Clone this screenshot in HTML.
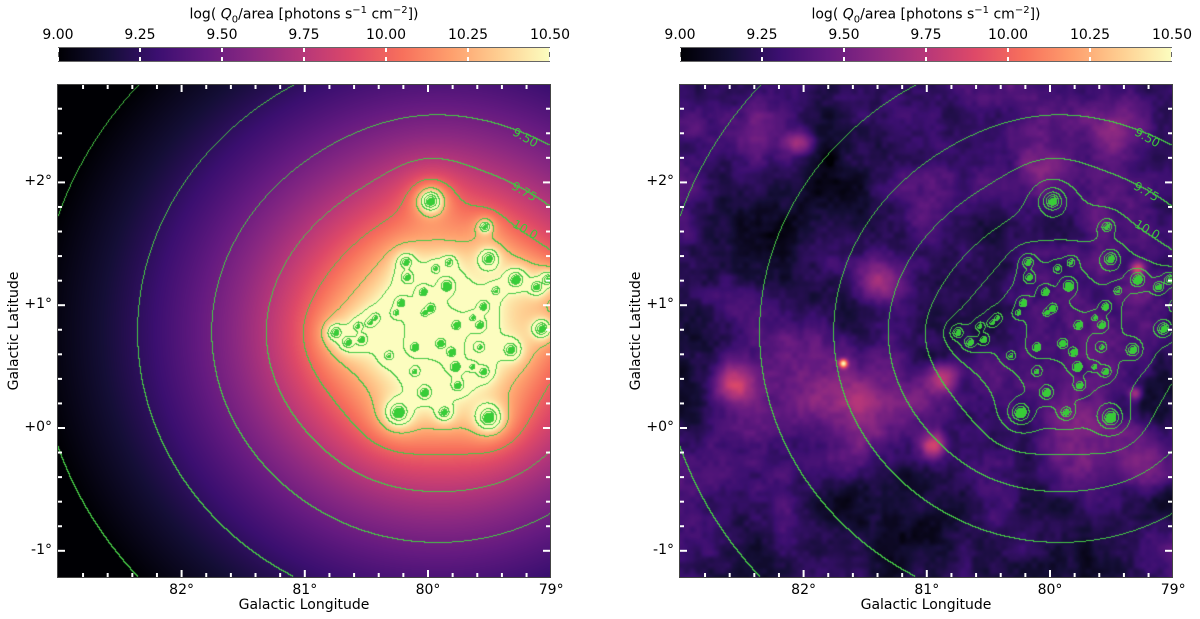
<!DOCTYPE html>
<html><head><meta charset="utf-8">
<style>
body{margin:0;background:#fff;width:1200px;height:619px;overflow:hidden;font-family:"DejaVu Sans","Liberation Sans",sans-serif;color:#000}
.abs{position:absolute}
canvas{position:absolute}
.t{position:absolute;font-size:14px;white-space:nowrap}
</style></head><body>
<div id="root"></div>
<script>
// ---- data ----
const srcLon=[79.98,79.54,80.18,80.17,79.94,79.83,79.51,79.85,79.29,79.12,79.03,79.45,80.04,80.22,79.98,80.03,79.55,79.64,79.77,79.58,79.08,80.75,80.57,80.47,80.43,80.54,80.65,80.26,79.90,80.32,80.11,79.81,79.78,79.64,79.55,79.33,79.58,80.11,79.76,80.03,80.24,79.87,79.51];
const srcLat=[1.85,1.64,1.35,1.23,1.30,1.35,1.38,1.16,1.21,1.15,1.21,1.12,1.11,1.02,0.98,0.94,0.99,0.90,0.84,0.84,0.81,0.78,0.83,0.86,0.90,0.72,0.70,0.94,0.69,0.59,0.66,0.62,0.50,0.50,0.46,0.64,0.66,0.46,0.35,0.29,0.13,0.13,0.09];
const srcWeight=[4,1,2,2,1,1,3,4,4,2,2,1,2,2,2,1,2,1,2,2,3,2,1,1,1,2,2,1,2,1,2,2,3,1,2,3,1,1,2,3,6,2,6];
const contourLevels=[9.0,9.25,9.5,9.75,10.0,10.25,10.5,10.75,11.0];
const contourLabels=["9.50","9.75","10.0"];
const cbTicks=[9.00,9.25,9.50,9.75,10.00,10.25,10.50];
const lonTicks=[82,81,80,79];
const latTicks=[2,1,0,-1];
const cbMin=9.0, cbMax=10.5;
const clusterLon=79.98, clusterLat=0.79;

const AX_TOP=85, AX_W=492, AX_H=492, PANELS=[58,680];
function xPix(lon){return 370+(80-lon)*123.2;}
function yPix(lat){return 343-lat*122.8;}
function fmt(v){return v.toFixed(2);}

const magma=[[0,0,0,4],[0.1,20,14,54],[0.2,59,15,112],[0.3,100,26,128],[0.4,140,41,129],[0.5,183,55,121],[0.6,222,73,104],[0.7,247,112,92],[0.8,254,159,109],[0.9,254,207,146],[1,252,253,191]];
function cmap(t){t=Math.max(0,Math.min(1,t));for(let i=1;i<magma.length;i++){if(t<=magma[i][0]){const a=magma[i-1],b=magma[i],f=(t-a[0])/(b[0]-a[0]);return [a[1]+(b[1]-a[1])*f,a[2]+(b[2]-a[2])*f,a[3]+(b[3]-a[3])*f];}}return [252,253,191];}

// field: diffuse 1/r^2 from cluster + point sources
const W=srcWeight.reduce((a,b)=>a+b,0);
const KS=5e11;
const KD=Math.pow(10,14.141)-KS*W, CORE=42;
const cx=xPix(clusterLon), cy=yPix(clusterLat);
const F=new Float32Array(AX_W*AX_H);
const sx=srcLon.map(xPix), sy=srcLat.map(yPix);
for(let y=0;y<AX_H;y++)for(let x=0;x<AX_W;x++){
  const ddx=(x-cx)/1.1,ddy=y-cy;let q=KD/(ddx*ddx+ddy*ddy+CORE*CORE);
  for(let i=0;i<sx.length;i++){const dx=x-sx[i],dy=y-sy[i];q+=KS*srcWeight[i]/(dx*dx+dy*dy+3);}
  F[y*AX_W+x]=Math.log10(q);}
function lvl(v){if(v<contourLevels[0])return -1;let k=0;for(let i=0;i<contourLevels.length;i++)if(v>=contourLevels[i])k=i+1;return k;}

// noise
function hash(x,y,s){let h=(x*374761393+y*668265263+s*982451653)|0;h=(h^(h>>>13))*1274126177|0;return ((h^(h>>>16))>>>0)/4294967295;}
function vnoise(x,y,sc,s){const gx=x/sc,gy=y/sc,x0=Math.floor(gx),y0=Math.floor(gy),fx=gx-x0,fy=gy-y0;const u=fx*fx*(3-2*fx),v=fy*fy*(3-2*fy);const a=hash(x0,y0,s),b=hash(x0+1,y0,s),c=hash(x0,y0+1,s),d=hash(x0+1,y0+1,s);return a+(b-a)*u+(c-a)*v+(a-b-c+d)*u*v;}
const blobs=[[53,297,16,0.5],[163,278,3,1.0],[203,198,18,0.5],[262,292,10,0.45],[253,360,9,0.6],[120,57,9,0.45],[87,52,28,0.3],[457,183,5,0.6],[455,308,5,0.45],[175,330,40,0.35],[150,280,30,0.2],[440,45,22,0.3],[367,85,18,0.25],[467,378,20,0.35],[330,275,35,0.15],[400,350,28,0.25],[250,120,25,0.15]];
function bgVal(x,y){let n=0.45*vnoise(x,y,80,1)+0.27*vnoise(x,y,35,2)+0.17*vnoise(x,y,15,3)+0.11*vnoise(x,y,6,4);let v=9.04+0.65*(n-0.2);for(const b of blobs){const dx=x-b[0],dy=y-b[1];v+=b[3]*Math.exp(-(dx*dx+dy*dy)/(2*b[2]*b[2]));}return v;}

const root=document.getElementById('root');
function mk(tag,cls,name,css,txt){const e=document.createElement(tag);if(cls)e.className=cls;e.style.cssText=css;if(txt!==undefined)e.textContent=txt;root.appendChild(e);return e;}

PANELS.forEach((L,p)=>{
  const cv=mk('canvas','',p?'observed-map':'model-map',`left:${L}px;top:${AX_TOP}px;`);
  cv.width=AX_W;cv.height=AX_H;const ctx=cv.getContext('2d');const im=ctx.createImageData(AX_W,AX_H);
  for(let y=0;y<AX_H;y++)for(let x=0;x<AX_W;x++){const i=y*AX_W+x;const f=F[i];let c;
    const lv=lvl(f);const lr=x<AX_W-1?lvl(F[i+1]):lv,lb=y<AX_H-1?lvl(F[i+AX_W]):lv;
    if(f>12.2)c=[235,255,235];
    else if(f>11.1)c=[55,205,55];
    else if(lv!==lr||lv!==lb)c=[70,200,70];
    else{const v=p?bgVal(x,y):f;c=cmap((v-cbMin)/(cbMax-cbMin));}
    im.data[i*4]=c[0];im.data[i*4+1]=c[1];im.data[i*4+2]=c[2];im.data[i*4+3]=255;}
  ctx.putImageData(im,0,0);
  const NS='http://www.w3.org/2000/svg';const sv=document.createElementNS(NS,'svg');
  
  sv.setAttribute('width',AX_W+2);sv.setAttribute('height',AX_H+2);sv.style.cssText=`position:absolute;left:${L-1}px;top:${AX_TOP-1}px`;
  root.appendChild(sv);
  function ln(x1,y1,x2,y2,col,w,name){const l=document.createElementNS(NS,'line');l.setAttribute('x1',x1+1);l.setAttribute('y1',y1+1);l.setAttribute('x2',x2+1);l.setAttribute('y2',y2+1);l.setAttribute('stroke',col);l.setAttribute('stroke-width',w);
    
    sv.appendChild(l);}
  for(let j=0;j<=25;j++){const lon=83-j*0.2;const x=xPix(lon);if(x<2||x>AX_W-2)continue;const maj=Math.abs(lon-Math.round(lon))<1e-6;const h=maj?7:4;
    ln(x,0,x,h,'#fff',2,'x-tick-top');ln(x,AX_H,x,AX_H-h,'#fff',2,'x-tick-bottom');}
  for(let j=-7;j<=15;j++){const lat=j*0.2;const y=yPix(lat);if(y<2||y>AX_H-2)continue;const maj=Math.abs(lat-Math.round(lat))<1e-6;const h=maj?7:4;
    ln(0,y,h,y,'#fff',2,'y-tick-left');ln(AX_W,y,AX_W-h,y,'#fff',2,'y-tick-right');}
  const r=document.createElementNS(NS,'rect');r.setAttribute('x',0.5);r.setAttribute('y',0.5);r.setAttribute('width',AX_W+1);r.setAttribute('height',AX_H+1);r.setAttribute('fill','none');r.setAttribute('stroke','#444');
  
  sv.appendChild(r);
  const labPos=[[467,53],[466,107],[467,145]];
  contourLabels.forEach((t,k)=>{const tx=document.createElementNS(NS,'text');tx.setAttribute('x',labPos[k][0]+1);tx.setAttribute('y',labPos[k][1]+1);tx.setAttribute('fill','#3cc83c');tx.setAttribute('font-size','12');tx.setAttribute('font-family','DejaVu Sans, sans-serif');tx.setAttribute('text-anchor','middle');tx.setAttribute('dominant-baseline','middle');tx.setAttribute('transform',`rotate(30 ${labPos[k][0]+1} ${labPos[k][1]+1})`);tx.textContent=t;
    
    sv.appendChild(tx);});
  mk('div','abs','colorbar',`left:${L}px;top:47px;width:${AX_W}px;height:15px;border:1px solid #666;box-sizing:border-box;background:linear-gradient(90deg,${magma.map(m=>`rgb(${m[1]},${m[2]},${m[3]}) ${m[0]*100}%`).join(',')})`);
  cbTicks.forEach(v=>{const x=L+(v-cbMin)/(cbMax-cbMin)*AX_W;
    mk('div','abs','colorbar-tick',`left:${x-1}px;top:48px;width:2px;height:4px;background:#fff`);
    mk('div','abs','colorbar-tick',`left:${x-1}px;top:57px;width:2px;height:4px;background:#fff`);
    mk('div','t','colorbar-tick-label',`left:${x}px;top:27px;transform:translateX(-50%)`,fmt(v));});
  const ti=mk('div','t','colorbar-title',`left:${L+AX_W/2}px;top:5px;transform:translateX(-50%)`);
  ti.innerHTML='log( <i>Q</i><sub style="font-size:10px">0</sub>/area [photons s<sup style="font-size:10px">−1</sup> cm<sup style="font-size:10px">−2</sup>])';
  lonTicks.forEach(v=>mk('div','t','x-tick-label',`left:${L+xPix(v)}px;top:582px;transform:translateX(-50%)`,v+'°'));
  latTicks.forEach(v=>mk('div','t','y-tick-label',`right:${1200-L+6}px;top:${AX_TOP+yPix(v)-9}px`,(v>=0?'+':'')+v+'°'));
  mk('div','t','x-axis-title',`left:${L+246}px;top:597px;transform:translateX(-50%)`,'Galactic Longitude');
  mk('div','t','y-axis-title',`left:${L-44}px;top:331px;transform:translate(-50%,-50%) rotate(-90deg)`,'Galactic Latitude');
});
</script>
</body></html>
